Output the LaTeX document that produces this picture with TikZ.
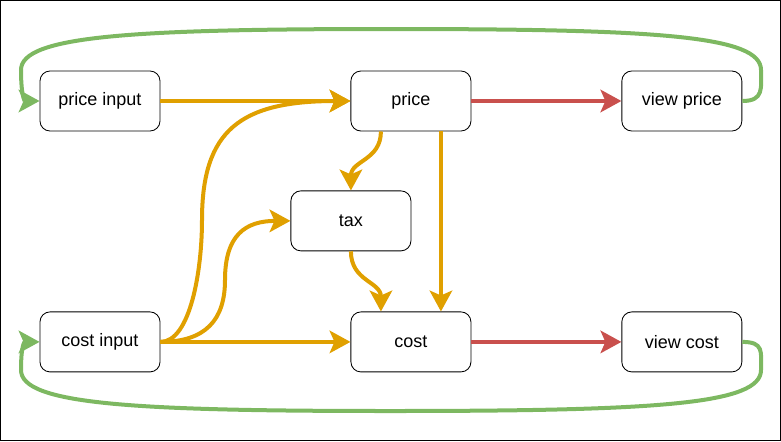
\documentclass[tikz,border=0pt]{standalone}
\usepackage{fontspec}
\setmainfont{Liberation Sans}
\usetikzlibrary{arrows.meta,positioning}
\definecolor{feed}{HTML}{E0A000}
\definecolor{show}{HTML}{C9504D}
\definecolor{loop}{HTML}{7DB861}
\tikzstyle{blk}=[draw=black, line width=0.6pt, rounded corners=0.25cm, minimum width=3cm, minimum height=1.5cm, inner sep=0pt, font=\fontsize{12.8}{15}\selectfont]
\tikzstyle{tip}=[-{Stealth[length=0.52cm, width=0.56cm, inset=0.12cm]}, line width=0.1cm]
\tikzstyle{fd}=[tip, draw=feed]
\tikzstyle{sh}=[tip, draw=show]
\tikzstyle{lp}=[tip, draw=loop]

\begin{document}
\begin{tikzpicture}[x=0.025cm, y=-0.025cm]
%
  \useasboundingbox (0,0) rectangle (781,441);
  \draw[line width=0.025cm] (0.5,0.5) rectangle (780.5,440.5);
%
  \node[blk] (pin) at (100,101) {price input};
  \node[blk] (pr) [right = 4.75cm of pin] {price};
  \node[blk] (vp) [right = 3.75cm of pr] {view price};
  \node[blk] (tx) [below = 1.475cm of pr, xshift=-1.5cm] {tax};
  \node[blk] (cin) [below = 4.5cm of pin] {cost input};
  \node[blk] (co) [right = 4.75cm of cin] {cost};
  \node[blk] (vc) [right = 3.75cm of co] {view cost};
%
  \coordinate (s1) at (202,220);
  \coordinate (s2) at (225,280);
  \coordinate (g1) at (761,70);
  \coordinate (g2) at (390,29);
  \coordinate (g3) at (21,70);
  \coordinate (g4) at (761,370);
  \coordinate (g5) at (390,411);
  \coordinate (g6) at (21,370);
%
  \draw[fd] (pin) -- (pr);
  \draw[fd] (cin) -- (co);
  \draw[fd] (cin.east) .. controls +(30,0) and +(0,50) .. (s1)
    .. controls +(0,-90) and +(-110,0) .. (pr.west);
  \draw[fd] (cin.east) .. controls +(45,0) and +(0,40) .. (s2)
    .. controls +(0,-45) and +(-45,0) .. (tx.west);
  \draw[fd] ([xshift=-0.75cm]pr.south) .. controls +(0,29) and +(0,-30) .. (tx.north);
  \draw[fd] (tx.south) .. controls +(0,30) and +(0,-30) .. ([xshift=-0.75cm]co.north);
  \draw[fd] ([xshift=0.75cm]pr.south) -- ([xshift=0.75cm]co.north);
%
  \draw[sh] (pr) -- (vp);
  \draw[sh] (co) -- (vc);
%
  \draw[lp] (vp.east) .. controls +(22,0) and +(0,18) .. (g1)
    .. controls +(0,-34) and +(270,0) .. (g2)
    .. controls +(-260,0) and +(0,-34) .. (g3)
    .. controls +(0,25) and +(-15,0) .. (pin.west);
  \draw[lp] (vc.east) .. controls +(22,0) and +(0,-18) .. (g4)
    .. controls +(0,34) and +(270,0) .. (g5)
    .. controls +(-260,0) and +(0,34) .. (g6)
    .. controls +(0,-25) and +(-15,0) .. (cin.west);
\end{tikzpicture}
\end{document}
